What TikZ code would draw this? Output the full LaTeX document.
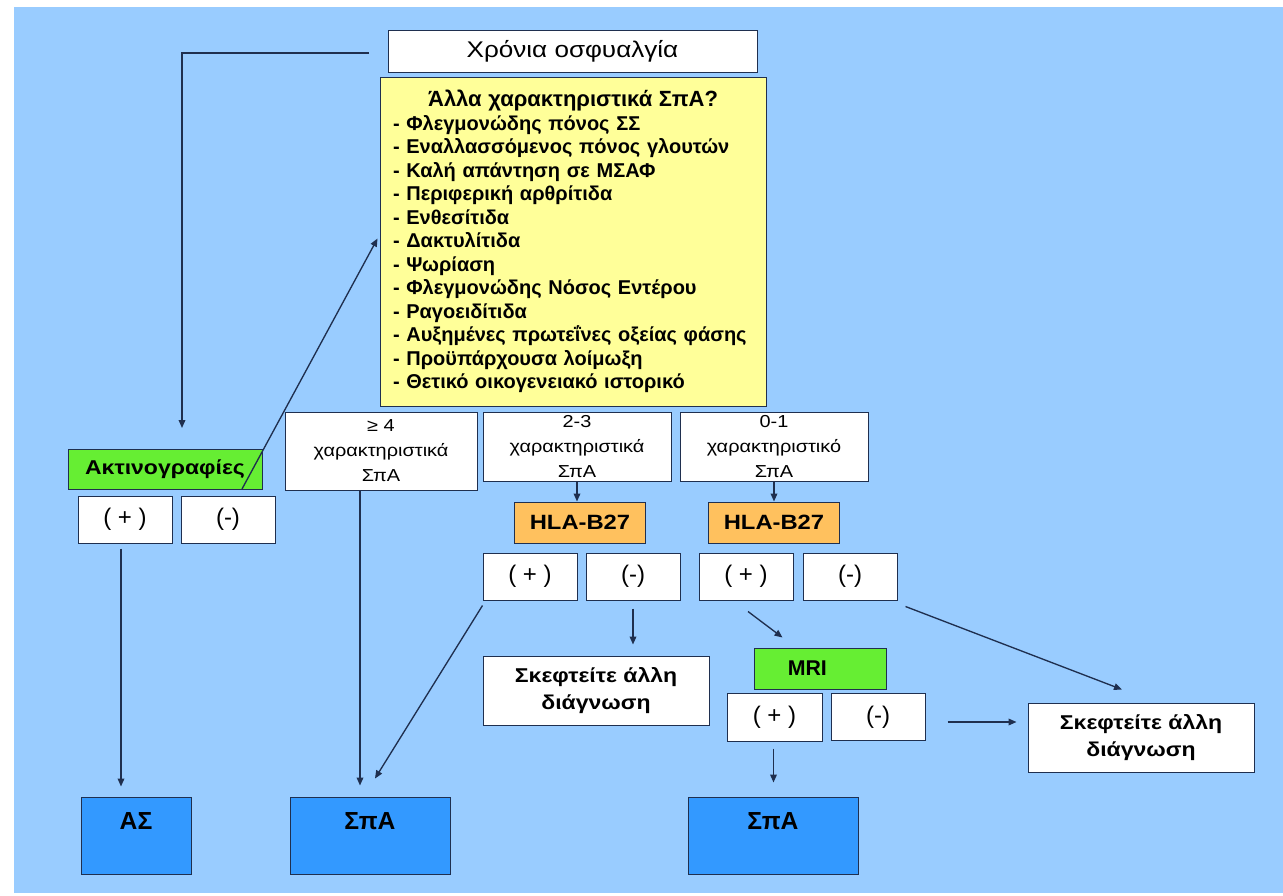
\documentclass[tikz,border=0pt]{standalone}
\usepackage{fontspec}
\setmainfont{Liberation Sans}
\newfontfamily\wide[FakeStretch=1.15]{Liberation Sans}
\usetikzlibrary{arrows.meta,calc}
\definecolor{sky}{HTML}{99CCFF}
\definecolor{edge}{HTML}{1F2F4F}
\definecolor{pale}{HTML}{FFFF99}
\definecolor{lime}{HTML}{66EE33}
\definecolor{amber}{HTML}{FFC15E}
\definecolor{deep}{HTML}{3399FF}

\begin{document}
\begin{tikzpicture}[x=0.75pt, y=-0.75pt,
  sz/.style 2 args={minimum width=#1*0.75pt, minimum height=#2*0.75pt},
  plain/.style={draw=edge, line width=0.75pt, inner sep=0pt, align=center},
  whitebox/.style={plain, fill=white},
  notebox/.style={plain, fill=pale},
  testbox/.style={plain, fill=lime, font=\wide\bfseries\fontsize{15}{18}\selectfont},
  hlabox/.style={plain, fill=amber, sz={131}{41}, font=\wide\bfseries\fontsize{15.5}{19}\selectfont},
  outbox/.style={plain, fill=deep, font=\bfseries\fontsize{18.5}{20}\selectfont,
    text height=13.2pt, text depth=22.2pt},
  signbox/.style={whitebox, sz={94}{47}, font=\fontsize{18}{20}\selectfont},
  countbox/.style={whitebox, font=\wide\fontsize{13}{18.75}\selectfont},
  thinkbox/.style={whitebox, sz={226}{69}, font=\wide\bfseries\fontsize{15}{20}\selectfont},
  arr/.style={draw=edge, line width=1pt, -{Triangle[length=6pt, width=5pt]}}
]
\useasboundingbox (0,0) rectangle (1283,896);
\fill[sky] (14,7) rectangle (1283,893);

\node[whitebox, sz={369}{42}, font=\wide\fontsize{17}{18}\selectfont] (chron) at (572.5,51) {Χρόνια οσφυαλγία};
\node[notebox, sz={386}{329}, text width=270pt, align=left,
  font=\bfseries\fontsize{15}{17.6}\selectfont] (feat) at (573,241.5)
  {{\centering\fontsize{16.5}{18}\selectfont Άλλα χαρακτηριστικά ΣπΑ?\par}
   - Φλεγμονώδης πόνος ΣΣ\\
   - Εναλλασσόμενος πόνος γλουτών\\
   - Καλή απάντηση σε ΜΣΑΦ\\
   - Περιφερική αρθρίτιδα\\
   - Ενθεσίτιδα\\
   - Δακτυλίτιδα\\
   - Ψωρίαση\\
   - Φλεγμονώδης Νόσος Εντέρου\\
   - Ραγοειδίτιδα\\
   - Αυξημένες πρωτεΐνες οξείας φάσης\\
   - Προϋπάρχουσα λοίμωξη\\
   - Θετικό οικογενειακό ιστορικό};

\node[testbox, sz={194}{40}] (xray) at (165,469) {Ακτινογραφίες};
\node[signbox] (xp) at (125,519.5) {( + )};
\node[signbox] (xm) at (228,519.5) {(-)};

\node[countbox, sz={192}{78}] (many) at (381,451) {≥ 4\\χαρακτηριστικά\\ΣπΑ};
\node[countbox, sz={188}{69}] (some) at (577,446.5) {2-3\\χαρακτηριστικά\\ΣπΑ};
\node[countbox, sz={188}{69}] (few) at (774,446.5) {0-1\\χαρακτηριστικό\\ΣπΑ};

\node[hlabox] (hlaA) at (580,522.5) {HLA-B27};
\node[hlabox] (hlaB) at (774,522.5) {HLA-B27};
\node[signbox] (pA) at (530,576.5) {( + )};
\node[signbox] (mA) at (633,576.5) {(-)};
\node[signbox] (pB) at (746,576.5) {( + )};
\node[signbox] (mB) at (850,576.5) {(-)};

\node[thinkbox] (thinkA) at (596,690.5) {Σκεφτείτε άλλη\\διάγνωση};
\node[testbox, sz={132}{41}, font=\bfseries\fontsize{16}{18}\selectfont] (mri) at (820,668.5) {MRI\hspace{19pt}};
\node[signbox, sz={95}{48}] (mp) at (774.5,717) {( + )};
\node[signbox] (mm) at (878,717) {(-)};
\node[thinkbox] (thinkB) at (1141,737.5) {Σκεφτείτε άλλη\\διάγνωση};

\node[outbox, sz={110}{77}] (as) at (136,835.5) {ΑΣ};
\node[outbox, sz={160}{77}] (spaA) at (370,835.5) {ΣπΑ};
\node[outbox, sz={170}{77}] (spaB) at (773,835.5) {ΣπΑ};

\coordinate (back) at (369,53);
\coordinate (drop) at (182,428);
\coordinate (rise) at (242,489);

\draw[arr] (back) -| (drop);
\draw[arr] (rise) -- ($(feat.west)+(-2,-3)$);
\draw[arr] ($(xp.south)+(-4,5)$) -- ($(xp.south|-as.north)+(-4,-10)$);
\draw[arr] ($(many.south)+(-21,0)$) -- ($(many.south|-spaA.north)+(-21,-11)$);
\draw[arr] (some.south) -- (some.south|-hlaA.north);
\draw[arr] (few.south) -- (few.south|-hlaB.north);
\draw[arr] ($(pA.south west)+(0,5)$) -- ($(spaA.north)+(5,-18)$);
\draw[arr] ($(mA.south)+(0,8)$) -- ($(mA.south|-thinkA.north)+(0,-11)$);
\draw[arr] ($(pB.south)+(2,11)$) -- ($(mri.north west)+(29,-10)$);
\draw[arr] ($(mB.south east)+(8,6)$) -- ($(thinkB.north)+(-19,-13)$);
\draw[arr] ($(mm.east)+(22,5)$) -- ($(thinkB.west)+(-11,-15.5)$);
\draw[arr] ($(mp.south)+(-1,7)$) -- ($(mp.south|-spaB.north)+(-1,-14)$);
\end{tikzpicture}
\end{document}
